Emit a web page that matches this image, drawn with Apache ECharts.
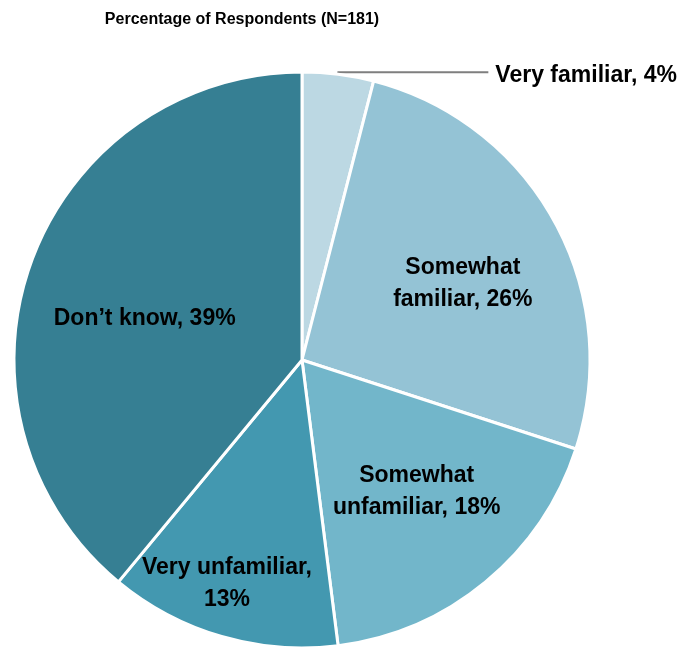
<!DOCTYPE html>
<html>
<head>
<meta charset="utf-8">
<script src="https://cdn.jsdelivr.net/npm/echarts@6/dist/echarts.min.js"></script>
<style>
  html, body { margin: 0; padding: 0; background: #fff; }
  #chart { width: 686px; height: 647px; }
</style>
</head>
<body>
<div id="chart"></div>
<script>
const categories = [
  "Very familiar",
  "Somewhat\nfamiliar",
  "Somewhat\nunfamiliar",
  "Very unfamiliar,\n",
  "Don\u2019t know",
];
const percents = [4, 26, 18, 13, 39];
const sliceColors = ["#bcd8e3", "#94c3d5", "#72b6ca", "#4398b0", "#367f93"];
// label nudges (px) from the default inside position
const labelShift = [
  [0, 3],
  [32, -6],
  [21, 18],
  [-34, 82],
  [-19, 8],
];

const font = "'Liberation Sans', Arial, sans-serif";

const chart = echarts.init(document.getElementById("chart"), null, {
  renderer: "canvas",
});

const option = {
  animation: false,
  title: {
    text: "Percentage of Respondents (N=181)",
    left: 237,
    textAlign: "center",
    top: 7,
    textStyle: {
      fontFamily: font,
      fontSize: 16,
      fontWeight: "bold",
      color: "#000",
    },
  },
  series: [
    {
      type: "pie",
      center: [302, 360],
      radius: [0, 288],
      startAngle: 90,
      clockwise: true,
      avoidLabelOverlap: false,
      itemStyle: { borderColor: "#fff", borderWidth: 3 },
      label: {
        show: true,
        position: "inside",
        fontFamily: font,
        fontSize: 23,
        fontWeight: "bold",
        color: "#000",
        lineHeight: 32,
        align: "center",
        formatter: (p) =>
          p.name.endsWith(",\n")
            ? p.name + p.value + "%"
            : p.name + ", " + p.value + "%",
      },
      labelLayout: (params) => {
        const s = labelShift[params.dataIndex];
        return { dx: s[0], dy: s[1] };
      },
      data: percents.map((v, i) => {
        const item = {
          name: categories[i],
          value: v,
          itemStyle: { color: sliceColors[i] },
        };
        if (i === 0) {
          item.label = { position: "outside", align: "left", distanceToLabelLine: 7 };
          item.labelLine = {
            show: true,
            length: 2,
            length2: 150,
            lineStyle: { color: "#7f7f7f", width: 2 },
          };
        }
        return item;
      }),
    },
  ],
};
chart.setOption(option);
</script>
</body>
</html>
